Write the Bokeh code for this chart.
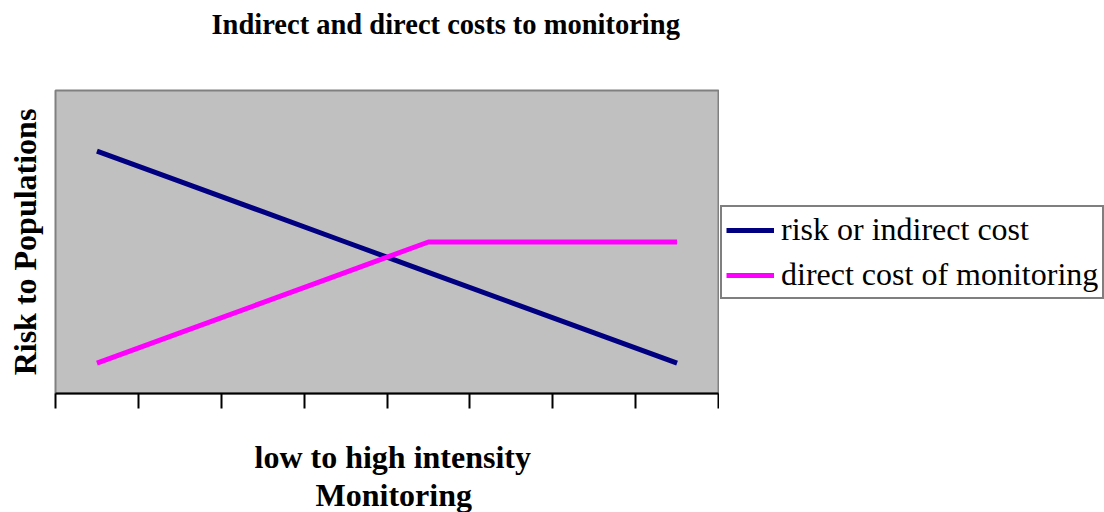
import numpy as np
from bokeh.plotting import figure
from bokeh.layouts import row
from bokeh.models import Range1d, Legend, LegendItem, FixedTicker, Title
from bokeh.embed import file_html
from bokeh.resources import INLINE

# ---- data ----
intensity_levels = ["1", "2", "3", "4", "5", "6", "7", "8"]
risk_indirect_cost = [8, 7, 6, 5, 4, 3, 2, 1]
direct_cost_monitoring = [1, 2, 3, 4, 5, 5, 5, 5]
series_names = ["risk or indirect cost", "direct cost of monitoring"]
series_colors = ["#000080", "#FF00FF"]

title_text = "Indirect and direct costs to monitoring"
y_label = "Risk to Populations"
x_label_lines = ["low to high intensity", "Monitoring"]

FONT = "Liberation Serif"

# ---------------- main chart ----------------
p = figure(width=719, height=512, output_backend="svg", toolbar_location=None,
           x_range=Range1d(0, len(intensity_levels)), y_range=Range1d(0, 10),
           title=None,
           min_border_left=55, min_border_right=1,
           min_border_top=90, min_border_bottom=118)

# spacer (closest to the frame), then the real title above it
p.add_layout(Title(text=" ", text_font_size="10px", standoff=38), "above")
p.add_layout(Title(text=title_text, text_font=FONT, text_font_size="28.5px",
                   text_font_style="bold", text_color="black",
                   align="left", offset=156, standoff=0), "above")

p.background_fill_color = "#C0C0C0"
p.border_fill_color = "white"
p.outline_line_color = "#808080"
p.outline_line_width = 2
p.xgrid.visible = False
p.ygrid.visible = False

# x axis: ticks at category boundaries, no labels
p.xaxis.ticker = FixedTicker(ticks=list(range(len(intensity_levels) + 1)))
p.xaxis.major_label_overrides = {i: "" for i in range(len(intensity_levels) + 1)}
p.xaxis.major_label_standoff = 0
p.xaxis.axis_line_color = "black"
p.xaxis.axis_line_width = 2
p.xaxis.major_tick_line_color = "black"
p.xaxis.major_tick_line_width = 2
p.xaxis.major_tick_out = 15
p.xaxis.major_tick_in = 0
p.xaxis.minor_tick_line_color = None

# x axis title (two lines) below the axis: spacer, then the two lines
p.add_layout(Title(text=" ", text_font_size="10px", standoff=15), "below")
p.add_layout(Title(text=x_label_lines[0], text_font=FONT, text_font_size="32px",
                   text_font_style="bold", text_color="black",
                   align="left", offset=199, standoff=0), "below")
p.add_layout(Title(text=x_label_lines[1], text_font=FONT, text_font_size="32px",
                   text_font_style="bold", text_color="black",
                   align="left", offset=260, standoff=0), "below")

# y axis: only its title
p.yaxis.ticker = FixedTicker(ticks=[])
p.yaxis.axis_line_color = None
p.yaxis.major_tick_line_color = None
p.yaxis.minor_tick_line_color = None
p.yaxis.major_label_standoff = 0
p.yaxis.axis_label = y_label
p.yaxis.axis_label_text_font = FONT
p.yaxis.axis_label_text_font_size = "32px"
p.yaxis.axis_label_text_font_style = "bold"
p.yaxis.axis_label_standoff = 13
p.yaxis.axis_label_text_color = "black"

x = np.arange(len(intensity_levels)) + 0.5
p.line(x, risk_indirect_cost, line_color=series_colors[0], line_width=5)
p.line(x, direct_cost_monitoring, line_color=series_colors[1], line_width=5)

# ---------------- legend panel (frame aligned with the chart's frame) ----------------
q = figure(width=385, height=512, output_backend="svg", toolbar_location=None,
           x_range=Range1d(-20, -19), y_range=Range1d(0, 10),
           x_axis_location=None, y_axis_location=None, title=None,
           min_border_left=0, min_border_right=0, min_border_top=0, min_border_bottom=0)
q.outline_line_color = None
q.xgrid.visible = False
q.ygrid.visible = False
q.background_fill_color = "white"
q.border_fill_color = "white"
l1 = q.line(x, risk_indirect_cost, line_color=series_colors[0], line_width=5)
l2 = q.line(x, direct_cost_monitoring, line_color=series_colors[1], line_width=5)

legend = Legend(items=[LegendItem(label=series_names[0], renderers=[l1]),
                       LegendItem(label=series_names[1], renderers=[l2])],
                location=(1, 94), orientation="vertical")
legend.label_text_font = FONT
legend.label_text_font_size = "32px"
legend.label_text_color = "black"
legend.glyph_width = 48
legend.glyph_height = 36
legend.label_height = 36
legend.label_standoff = 7
legend.spacing = 8
legend.padding = 4
legend.margin = 0
legend.border_line_color = "black"
legend.border_line_width = 2
legend.background_fill_color = "white"
legend.background_fill_alpha = 1
q.add_layout(legend, "center")

layout = row(p, q, spacing=0)
open("out.html", "w").write(file_html(layout, INLINE))
